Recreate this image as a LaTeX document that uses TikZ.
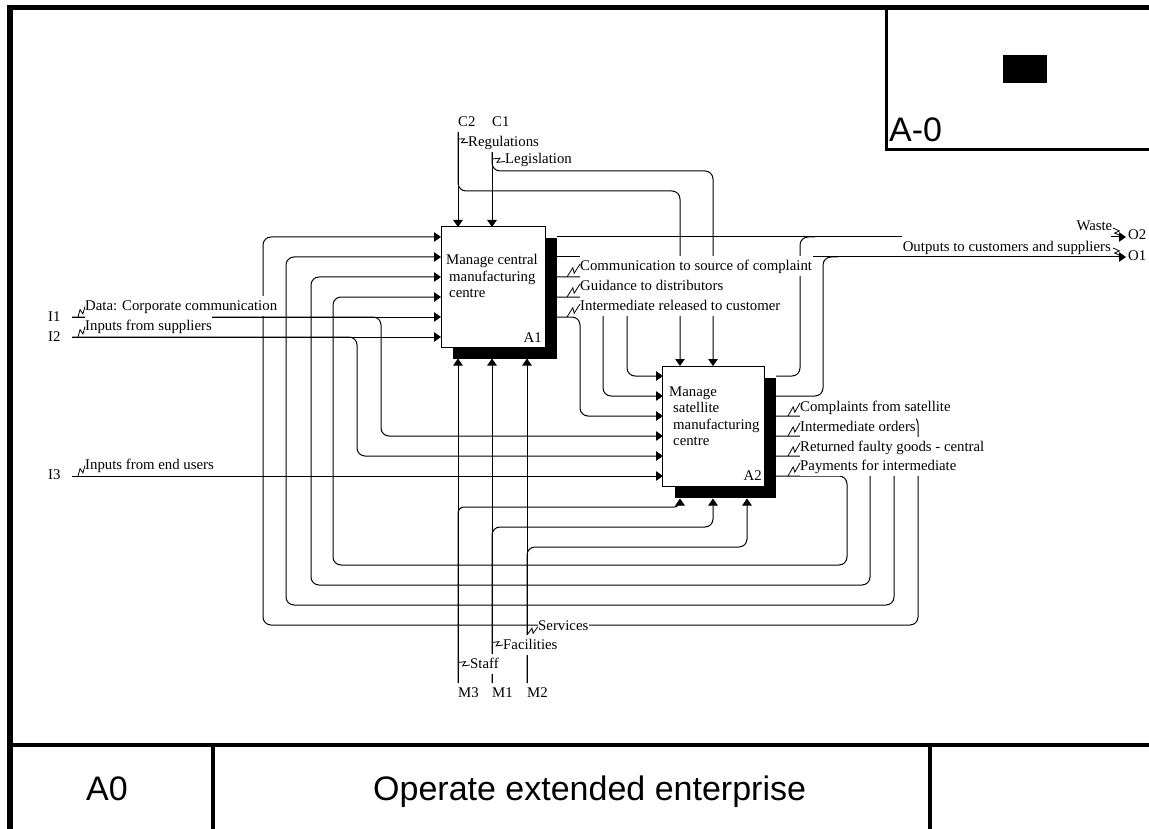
\documentclass[tikz,border=0pt]{standalone}
\usepackage{fontspec}
\setmainfont{Liberation Serif}
\newfontfamily\framefont{Liberation Sans}
\usetikzlibrary{arrows.meta,calc}

\newcommand\lblfont{\fontsize{14.8}{16.5}\selectfont}
\newcommand\lstrut{\rule[-5.5pt]{0pt}{19.5pt}}
\newcommand\ostrut{\rule[-4pt]{0pt}{20pt}}
% zig-zag leader from a label to its arrow
\newcommand\zz[2]{\draw[squig] #1 -- ($#1!0.58!#2!2.4pt!90:#2$) -- ($#1!0.42!#2!2.4pt!-90:#2$) -- #2;}

\tikzset{
  flow/.style={line width=1pt, -{Triangle[length=7pt,width=9.5pt]}, rounded corners=8pt},
  wire/.style={line width=1pt, rounded corners=8pt},
  act/.style={draw, line width=1pt, fill=white, minimum height=120pt, inner sep=0pt},
  shade/.style={fill=black, minimum height=120pt, inner sep=0pt},
  lbl/.style={fill=white, inner xsep=0.5pt, inner ysep=0.25pt, anchor=base west, font=\lblfont, execute at begin node=\lstrut},
  lblo/.style={fill=white, inner xsep=0.5pt, inner ysep=0.25pt, anchor=base east, font=\lblfont, execute at begin node=\ostrut},
  tag/.style={inner sep=0pt, anchor=base west, font=\lblfont},
  boxtext/.style={inner sep=0pt, anchor=north west, align=left, font=\lblfont},
  squig/.style={line width=0.8pt},
  frametxt/.style={inner sep=0pt, anchor=base west, font=\framefont\fontsize{34}{40}\selectfont}
}

\begin{document}
\begin{tikzpicture}[x=1pt,y=-1pt]
\useasboundingbox (0,0) rectangle (1149,829);

% ---- frame ----
\draw[line width=5pt] (7,7.5) -- (1149,7.5);
\draw[line width=6pt] (10,5) -- (10,829);
\draw[line width=3pt] (886,7.5) -- (886,150) -- (1149,150);
\fill (1003,55) rectangle (1047,83);
\node[frametxt] (nodeid) at (889,142) {A-0};
\draw[line width=4pt] (7,745) -- (1149,745);
\draw[line width=4pt] (213,745) -- (213,829);
\draw[line width=4pt] (930,745) -- (930,829);
\node[frametxt] (nodenum) at (86,800) {A0};
\node[frametxt] (title) at (373,800) {Operate extended enterprise};

% ---- activity boxes ----
\node[shade, minimum width=104pt] (a1s) at (504.5,298.5) {};
\node[act, minimum width=104pt] (a1) at (493,287) {};
\node[boxtext] (a1t) at (446,254.5) {Manage central\\\hspace*{3pt}manufacturing\\\hspace*{3pt}centre};
\node[tag, anchor=base east] (a1n) at (542,342) {A1};

\node[shade, minimum width=101.5pt] (a2s) at (725.5,438) {};
\node[act, minimum width=101.5pt] (a2) at (713.5,426) {};
\node[boxtext] (a2t) at (669,386.5) {Manage\\\hspace*{4pt}satellite\\\hspace*{4pt}manufacturing\\\hspace*{4pt}centre};
\node[tag, anchor=base east] (a2n) at (762,480) {A2};

% ---- ports ----
\foreach \k/\y in {1/237,2/257,3/277,4/297,5/317,6/337} {\coordinate (a1in\k) at (441,\y);}
\foreach \k/\y in {1/237,2/257,3/277,4/297,5/317} {\coordinate (a1out\k) at (556.5,\y);}
\coordinate (a1ctl1) at (458,227);
\coordinate (a1ctl2) at (492,227);
\coordinate (a1mec1) at (458,358.5);
\coordinate (a1mec2) at (492,358.5);
\coordinate (a1mec3) at (527,358.5);
\foreach \k/\y in {1/376,2/396,3/416,4/436,5/456,6/476} {\coordinate (a2in\k) at (663,\y); \coordinate (a2out\k) at (776,\y);}
\coordinate (a2ctl1) at (680,366);
\coordinate (a2ctl2) at (713,366);
\coordinate (a2mec1) at (680,498.5);
\coordinate (a2mec2) at (713,498.5);
\coordinate (a2mec3) at (747,498.5);

% boundary arrows
\coordinate (c2) at (458,132);
\coordinate (c1) at (492,132);
\coordinate (m3) at (458,683);
\coordinate (m1) at (492,683);
\coordinate (m2) at (527,683);
\coordinate (i1) at (72,317);
\coordinate (i2) at (72,337);
\coordinate (i3) at (72,476);
\coordinate (o2) at (1126,237);
\coordinate (o1) at (1126,257);

% ---- controls ----
\draw[flow] (c2) -- (a1ctl1);
\draw[flow] (c2) |- (680,191) -- (a2ctl1);
\draw[flow] (c1) -- (a1ctl2);
\draw[flow] (c1) |- (713,171) -- (a2ctl2);

% ---- mechanisms ----
\draw[flow] (m3) -- (a1mec1);
\draw[flow, rounded corners=6pt] (m3) |- (680,507) -- (a2mec1);
\draw[flow] (m1) -- (a1mec2);
\draw[flow] (m1) |- (713,527) -- (a2mec2);
\draw[flow] (m2) -- (a1mec3);
\draw[flow] (m2) |- (747,547) -- (a2mec3);

% ---- inputs ----
\draw[flow] (i1) -- (a1in5);
\draw[flow] (i1) -| (381,436) -- (a2in4);
\draw[flow] (i2) -- (a1in6);
\draw[flow] (i2) -| (357,456) -- (a2in5);
\draw[flow] (i3) -- (a2in6);

% ---- A1 outputs ----
\draw[flow] (a1out1) -- (o2);
\draw[flow] (a1out2) -- (o1);
\draw[flow] (a1out3) -| (627,376) -- (a2in1);
\draw[flow] (a1out4) -| (603,396) -- (a2in2);
\draw[flow] (a1out5) -| (580,416) -- (a2in3);

% ---- A2 outputs ----
\draw[wire] (a2out1) -| (800,237) -- (815,237);
\draw[wire] (a2out2) -| (823,257) -- (838,257);
\draw[flow] (a2out3) -| (918,625) -- (263,625) |- (a1in1);
\draw[flow] (a2out4) -| (894,605) -- (286,605) |- (a1in2);
\draw[flow] (a2out5) -| (870,585) -- (311,585) |- (a1in3);
\draw[flow] (a2out6) -| (847,565) -- (333,565) |- (a1in4);

% ---- arrow labels ----
\node[lbl] (lreg) at (467.5,146.5) {Regulations};
\node[lbl] (lleg) at (504.5,164) {Legislation};
\node[lbl] (lcomm) at (579.5,270.5) {Communication to source of complaint};
\node[lbl] (lguid) at (579.5,290.5) {Guidance to distributors};
\node[lbl] (lrel) at (579.5,310.5) {Intermediate released to customer};
\node[lbl] (ldata) at (84.5,310.5) {Data: Corporate communication};
\node[lbl] (lsupp) at (84.5,330.5) {Inputs from suppliers};
\node[lbl] (lend) at (84.5,469.5) {Inputs from end users};
\node[lbl] (lcompl) at (799.5,411) {Complaints from satellite};
\node[lbl] (lord) at (799.5,431) {Intermediate orders};
\node[lbl] (lret) at (799.5,451) {Returned faulty goods - central};
\node[lbl] (lpay) at (799.5,470) {Payments for intermediate};
\node[lblo] (lout) at (1111.5,251.5) {Outputs to customers and suppliers};
\node[tag, anchor=base east] (lwaste) at (1112.5,231) {Waste};
\node[lbl] (lserv) at (537.5,630) {Services};
\node[lbl] (lfac) at (502.5,649) {Facilities};
\node[lbl] (lstaff) at (469.5,668) {Staff};

% ---- leaders ----
\zz{(458,139)}{(468,142.5)}
\zz{(492,159)}{(505,161.5)}
\zz{(567,277)}{(580,264)}
\zz{(567,297)}{(580,284)}
\zz{(567,317)}{(580,304)}
\zz{(788,416)}{(800,403)}
\zz{(788,436)}{(800,423)}
\zz{(788,456)}{(800,443)}
\zz{(788,476)}{(800,463)}
\zz{(78,317)}{(85,306.5)}
\zz{(78,337)}{(85,326.5)}
\zz{(78,476)}{(85,465.5)}
\zz{(1113,228)}{(1121,236)}
\zz{(1113,248)}{(1121,256)}
\zz{(527,635)}{(538,626.5)}
\zz{(492,642.5)}{(503,645)}
\zz{(458,662.5)}{(470,665)}

% ---- ICOM codes ----
\node[tag] (tc2) at (458,126.7) {C2};
\node[tag] (tc1) at (492,126.7) {C1};
\node[tag] (tm3) at (458,697) {M3};
\node[tag] (tm1) at (492,697) {M1};
\node[tag] (tm2) at (527,697) {M2};
\node[tag] (ti1) at (48,321.5) {I1};
\node[tag] (ti2) at (48,341.5) {I2};
\node[tag] (ti3) at (48,479.5) {I3};
\node[tag] (to2) at (1128,239.5) {O2};
\node[tag] (to1) at (1128,260.5) {O1};
\end{tikzpicture}
\end{document}
